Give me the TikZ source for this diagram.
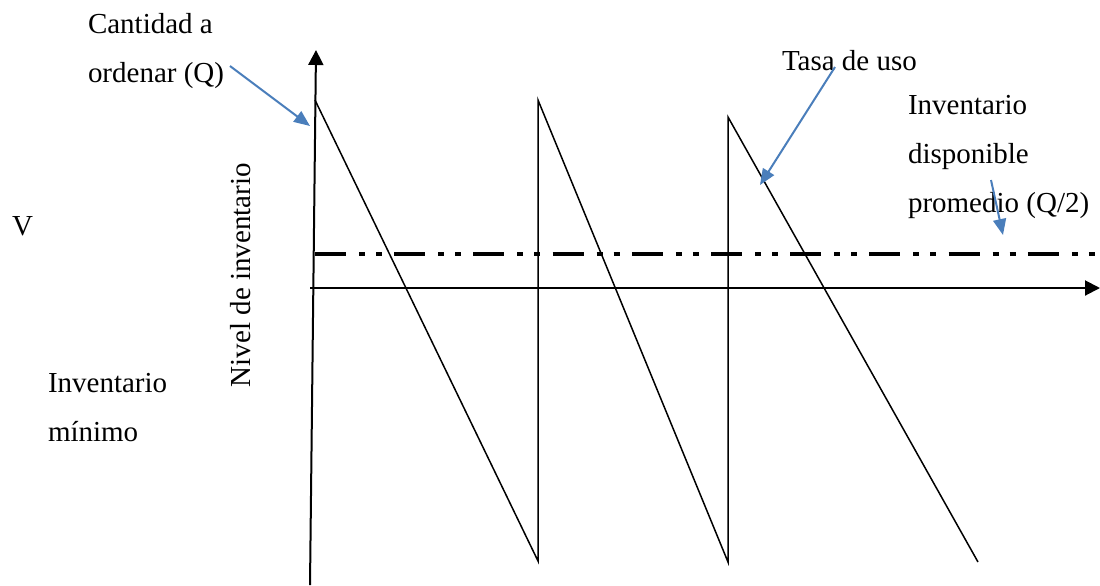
\documentclass[tikz,border=0pt]{standalone}
\usepackage{fontspec}
\setmainfont{Liberation Serif}
\usepackage{tikz}
\usetikzlibrary{arrows.meta}
\definecolor{callblue}{HTML}{4A7EBB}

\begin{document}
\begin{tikzpicture}[x=0.5pt,y=-0.5pt,
  lbl/.style={inner sep=0pt,outer sep=0pt,align=left,font=\fontsize{14.5}{24.5}\selectfont},
  axis/.style={line width=1pt,-{Triangle[length=7.5pt,width=7.5pt]}},
  saw/.style={line width=0.75pt,line join=miter},
  callout/.style={callblue,line width=1pt,-{Triangle[length=8pt,width=6.5pt]}},
  avg/.style={line width=2pt,dash pattern=on 15.5pt off 6.5pt on 3pt off 5.5pt on 3pt off 6.1pt}]
\useasboundingbox (0,0) rectangle (1100,585);
% axes
\draw[axis] (310,585) -- (316,50);
\draw[axis] (310,288) -- (1100,288);
% stock level
\draw[saw] (315,100) -- (538,561) -- (538,100) -- (728,562) -- (728,117) -- (978,562);
\draw[avg] (315,254) -- (1095,254);
% labels
\node[lbl,anchor=north west] (cant) at (88,13) {Cantidad a\\ordenar (Q)};
\node[lbl,anchor=base west] (tasa) at (782,70) {Tasa de uso};
\node[lbl,anchor=north west] (prom) at (908,95) {Inventario\\disponible\\promedio (Q/2)};
\node[lbl,anchor=base west] (v) at (12,235) {V};
\node[lbl,anchor=north west] (minimo) at (48,373) {Inventario\\mínimo};
\node[lbl,anchor=base west,rotate=90] (nivel) at (250,387) {Nivel de inventario};
% callouts
\coordinate (cantfrom) at (230,66);
\coordinate (cantto) at (310,126);
\coordinate (tasafrom) at (835,67);
\coordinate (tasato) at (760,185);
\coordinate (promfrom) at (991,180);
\coordinate (promto) at (1003,235);
\draw[callout] (cantfrom) -- (cantto);
\draw[callout] (tasafrom) -- (tasato);
\draw[callout] (promfrom) -- (promto);
\end{tikzpicture}
\end{document}
